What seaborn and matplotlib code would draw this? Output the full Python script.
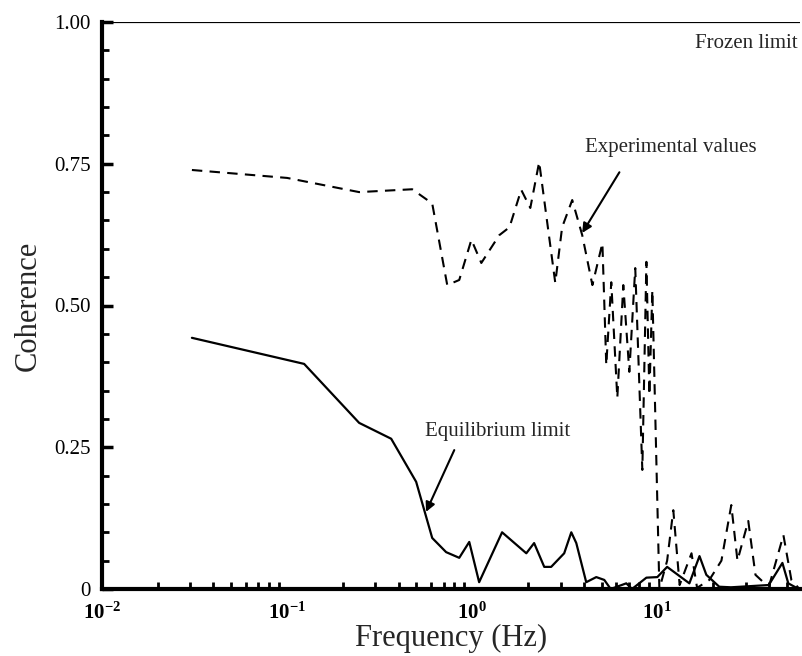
import numpy as np
import pandas as pd
import matplotlib
matplotlib.use("Agg")
import matplotlib.pyplot as plt
import seaborn as sns
from matplotlib.ticker import FixedLocator, LogLocator, NullFormatter, MultipleLocator

# ---- data ----
exp_freq = [0.0306, 0.100, 0.245, 0.474, 0.608, 0.733, 0.851, 0.99, 1.12, 1.40, 1.59,
            1.84, 2.06, 2.30, 2.81, 3.06, 3.47, 3.93, 4.46, 5.05, 5.30, 5.64, 6.08,
            6.55, 7.06, 7.60, 8.30, 8.73, 9.06, 9.40, 10.26, 11.3, 12.2, 13.2, 15.3,
            16.4, 19.1, 22.2, 25.1, 27.1, 31.0, 33.9, 37.4, 40.3, 48.0, 53.0, 58.6]
exp_coh = [0.739, 0.725, 0.700, 0.705, 0.680, 0.536, 0.545, 0.616, 0.575, 0.624, 0.638,
           0.704, 0.672, 0.753, 0.540, 0.638, 0.686, 0.624, 0.536, 0.610, 0.395, 0.541,
           0.337, 0.536, 0.383, 0.566, 0.210, 0.577, 0.342, 0.527, 0.000, 0.050, 0.139,
           0.007, 0.063, 0.002, 0.016, 0.050, 0.148, 0.050, 0.120, 0.025, 0.012, 0.007,
           0.095, 0.016, 0.000]

eq_freq = [0.0306, 0.1236, 0.245, 0.365, 0.498, 0.608, 0.723, 0.851, 0.964, 1.09, 1.45,
           1.96, 2.16, 2.45, 2.67, 3.14, 3.43, 3.65, 4.13, 4.68, 5.17, 5.6, 6.8, 7.3,
           8.73, 10.0, 11.3, 14.9, 16.9, 18.4, 21.6, 25.0, 40.0, 47.4, 51.0, 58.0]
eq_coh = [0.443, 0.397, 0.293, 0.265, 0.189, 0.090, 0.065, 0.055, 0.083, 0.012, 0.100,
          0.063, 0.081, 0.039, 0.039, 0.063, 0.100, 0.081, 0.012, 0.021, 0.016, 0.000,
          0.010, 0.000, 0.020, 0.021, 0.039, 0.010, 0.058, 0.025, 0.004, 0.003, 0.007,
          0.046, 0.010, 0.000]

frozen_freq = [0.01, 60.0]
frozen_coh = [1.0, 1.0]

y_ticks = [0, 0.25, 0.5, 0.75, 1.0]
y_tick_labels = ["0", "0.25", "0.50", "0.75", "1.00"]
x_ticks = [0.01, 0.1, 1, 10]
x_tick_labels = [r"$\mathbf{10^{-2}}$", r"$\mathbf{10^{-1}}$", r"$\mathbf{10^{0}}$", r"$\mathbf{10^{1}}$"]

sns.set_theme(style="white")
plt.rcParams["font.family"] = ["Liberation Serif", "DejaVu Serif"]
plt.rcParams["mathtext.fontset"] = "custom"
plt.rcParams["mathtext.rm"] = "Liberation Serif"
plt.rcParams["mathtext.bf"] = "Liberation Serif:bold"
plt.rcParams["mathtext.it"] = "Liberation Serif:italic"

fig = plt.figure(figsize=(8.03, 6.56), dpi=100)
ax = fig.add_axes([102 / 803, 67 / 656, 698 / 803, 567 / 656])

df_exp = pd.DataFrame({"f": exp_freq, "c": exp_coh})
df_eq = pd.DataFrame({"f": eq_freq, "c": eq_coh})
df_fr = pd.DataFrame({"f": frozen_freq, "c": frozen_coh})

sns.lineplot(data=df_exp, x="f", y="c", ax=ax, color="black", lw=1.5,
             estimator=None, sort=False)
ax.lines[-1].set_dashes([5, 3.5])
sns.lineplot(data=df_eq, x="f", y="c", ax=ax, color="black", lw=1.6,
             estimator=None, sort=False)
sns.lineplot(data=df_fr, x="f", y="c", ax=ax, color="black", lw=1.6,
             estimator=None, sort=False)

ax.set_xscale("log")
ax.set_xlim(0.01, 59)
ax.set_ylim(0, 1.0)

for s in ["top", "right"]:
    ax.spines[s].set_visible(False)
for s in ["left", "bottom"]:
    ax.spines[s].set_linewidth(3)
    ax.spines[s].set_color("black")

ax.yaxis.set_major_locator(FixedLocator(y_ticks))
ax.set_yticklabels(y_tick_labels)
ax.yaxis.set_minor_locator(MultipleLocator(0.05))
ax.xaxis.set_major_locator(FixedLocator(x_ticks))
ax.set_xticklabels(x_tick_labels)
ax.xaxis.set_minor_locator(LogLocator(base=10, subs=np.arange(2, 10)))
ax.xaxis.set_minor_formatter(NullFormatter())

ax.tick_params(axis="both", which="major", direction="in", length=8, width=2.5,
               labelsize=15, pad=8, color="black", labelcolor="black")
ax.tick_params(axis="both", which="minor", direction="in", length=5, width=2,
               color="black")
ax.tick_params(axis="x", which="major", length=0, pad=10)
ax.tick_params(axis="x", which="minor", length=5)
ax.tick_params(left=True, bottom=True, which="both")

ax.set_xlabel("Frequency (Hz)", fontsize=22, labelpad=0)
ax.set_ylabel("Coherence", fontsize=22, labelpad=8)

ax.text(0.997, 0.978, "Frozen limit", transform=ax.transAxes, ha="right", va="top",
        fontsize=15)

ax.text(4.08, 0.778, "Experimental values", fontsize=15, ha="left", va="center")
ax.annotate("", xy=(3.93, 0.628), xytext=(6.24, 0.735),
            arrowprops=dict(arrowstyle="-|>", color="black", lw=1.5,
                            shrinkA=0, shrinkB=0, mutation_scale=14))
ax.text(0.557, 0.277, "Equilibrium limit", fontsize=15, ha="left", va="center")
ax.annotate("", xy=(0.563, 0.136), xytext=(0.80, 0.245),
            arrowprops=dict(arrowstyle="-|>", color="black", lw=1.5,
                            shrinkA=0, shrinkB=0, mutation_scale=14))

fig.savefig("out.png", dpi=100)
